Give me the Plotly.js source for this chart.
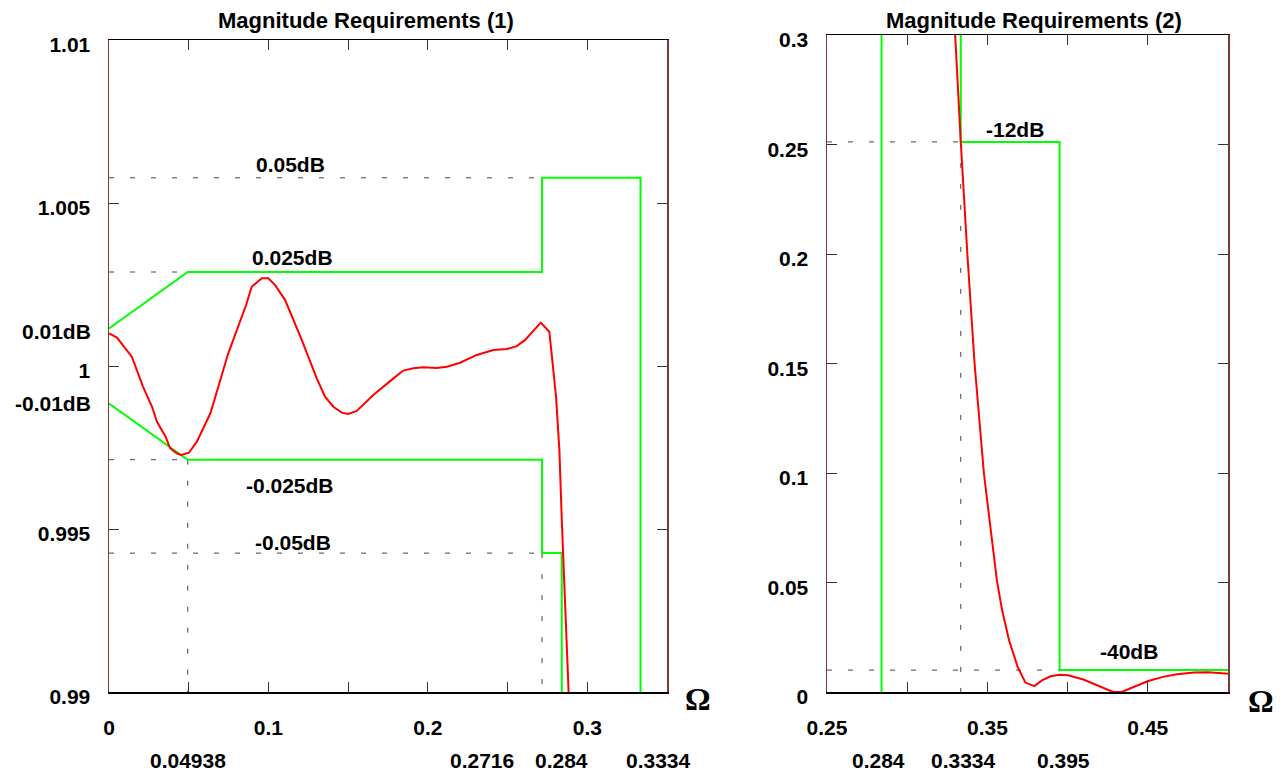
<!DOCTYPE html>
<html>
<head>
<meta charset="utf-8">
<script src="https://cdn.plot.ly/plotly-3.0.1.min.js"></script>
<style>html,body{margin:0;padding:0;background:#fff;}#chart{width:1286px;height:773px;}</style>
</head>
<body>
<div id="chart"></div>
<script>
// ---------- data ----------
// band edge frequencies
const fPassRamp = 0.04938;
const fPass = 0.2716;
const fEdge = 0.284;
const fStop1 = 0.3334;
const fStop2 = 0.395;
// passband limits (dB label, linear magnitude)
const passLabels = ['0.01dB', '0.025dB', '0.05dB', '-0.01dB', '-0.025dB', '-0.05dB'];
const passMags = [1.001152, 1.002883, 1.005773, 0.998849, 0.997126, 0.994260];
// stopband limits
const stopLabels = ['-12dB', '-40dB'];
const stopMags = [0.251189, 0.01];
// measured magnitude response, passband view
const respOmega1 = [0.0000,0.0050,0.0144,0.0213,0.0270,0.0301,0.0355,0.0383,0.0425,0.0453,0.0501,0.0551,0.0636,0.0748,0.0860,0.0895,0.0958,0.0999,0.1041,0.1104,0.1209,0.1303,0.1355,0.1407,0.1460,0.1501,0.1554,0.1658,0.1784,0.1846,0.1909,0.1972,0.2056,0.2119,0.2202,0.2307,0.2411,0.2495,0.2558,0.2610,0.2708,0.2762,0.2804,0.2825,0.2840,0.2867,0.2886,0.2895];
const respMag1 = [1.00100,1.00087,1.00028,0.99937,0.99875,0.99829,0.99783,0.99748,0.99732,0.99727,0.99734,0.99768,0.99855,1.00039,1.00187,1.00243,1.00269,1.00269,1.00249,1.00203,1.00080,0.99962,0.99906,0.99875,0.99857,0.99853,0.99862,0.99911,0.99962,0.99986,0.99993,0.99996,0.99994,0.99998,1.00010,1.00034,1.00049,1.00052,1.00061,1.00080,1.00133,1.00105,0.99906,0.99742,0.99528,0.99221,0.99000,0.98850];
// measured magnitude response, stopband view
const respOmega2 = [0.3290,0.3299,0.3334,0.3375,0.3420,0.3478,0.3559,0.3592,0.3635,0.3689,0.3737,0.3793,0.3840,0.3894,0.3948,0.4002,0.4099,0.4207,0.4283,0.4337,0.4401,0.4498,0.4595,0.4681,0.4789,0.4876,0.4983,0.5000];
const respMag2 = [0.3200,0.3000,0.2512,0.2000,0.1500,0.1000,0.0510,0.0373,0.0236,0.0114,0.0043,0.0027,0.0053,0.0072,0.0079,0.0076,0.0057,0.0023,0.0000,0.0000,0.0020,0.0049,0.0069,0.0081,0.0089,0.0090,0.0084,0.0083];
// axes
const range1X = [0, 0.35];
const range1Y = [0.99, 1.01];
const range2X = [0.25, 0.5];
const range2Y = [0, 0.3];
const ticks1X = [0, 0.05, 0.1, 0.15, 0.2, 0.25, 0.3, 0.35];
const tickText1X = ['0', '', '0.1', '', '0.2', '', '0.3', ''];
const ticks1Y = [0.99, 0.995, 1, 1.005, 1.01];
const tickText1Y = ['0.99', '0.995', '1', '1.005', '1.01'];
const ticks2X = [0.25, 0.3, 0.35, 0.4, 0.45, 0.5];
const tickText2X = ['0.25', '', '0.35', '', '0.45', ''];
const ticks2Y = [0, 0.05, 0.1, 0.15, 0.2, 0.25, 0.3];
const tickText2Y = ['0', '0.05', '0.1', '0.15', '0.2', '0.25', '0.3'];
const titles = ['Magnitude Requirements (1)', 'Magnitude Requirements (2)'];
const freqLabels1 = ['0.04938', '0.2716', '0.284', '0.3334'];
const freqLabels2 = ['0.284', '0.3334', '0.395'];

// ---------- layout helpers ----------
const W = 1286, H = 773;
const px = v => v / W;
const py = v => 1 - v / H;
const GREEN = '#00ff00', RED = '#ff0000', DASH = '#444444';
const FONT = 'Liberation Sans, Arial, sans-serif';
const dashLine = {color: DASH, width: 1, dash: '5px,16px'};
const greenLine = {color: GREEN, width: 2};

const traces = [];
function add(x, y, line, xa, ya) {
  traces.push({x: x, y: y, mode: 'lines', line: line, xaxis: xa, yaxis: ya, hoverinfo: 'skip'});
}
// ---- plot 1 ----
const [u01, u025, u05, l01, l025, l05] = passMags;
add([0, fPass], [u05, u05], dashLine, 'x', 'y');
add([0, fPassRamp], [u025, u025], dashLine, 'x', 'y');
add([0, fPassRamp], [l025, l025], dashLine, 'x', 'y');
add([0, fPass], [l05, l05], dashLine, 'x', 'y');
add([fPassRamp, fPassRamp], [l025, range1Y[0]], dashLine, 'x', 'y');
add([fPass, fPass], [l05, range1Y[0]], dashLine, 'x', 'y');
add([0, fPassRamp, fPass, fPass, fStop1, fStop1], [u01, u025, u025, u05, u05, range1Y[0]], greenLine, 'x', 'y');
add([0, fPassRamp, fPass, fPass, fEdge, fEdge], [l01, l025, l025, l05, l05, range1Y[0]], greenLine, 'x', 'y');
add(respOmega1, respMag1, {color: RED, width: 2}, 'x', 'y');
// ---- plot 2 ----
const [s12, s40] = stopMags;
add([range2X[0], fStop1], [s12, s12], dashLine, 'x2', 'y2');
add([fStop1, fStop1], [s12, 0], dashLine, 'x2', 'y2');
add([range2X[0], fStop2], [s40, s40], dashLine, 'x2', 'y2');
add([fEdge, fEdge], [0, range2Y[1]], greenLine, 'x2', 'y2');
add([fStop1, fStop1, fStop2, fStop2, range2X[1]], [range2Y[1], s12, s12, s40, s40], greenLine, 'x2', 'y2');
add(respOmega2, respMag2, {color: RED, width: 2}, 'x2', 'y2');

const tickFont = {family: FONT, size: 21, color: '#000', weight: 'bold'};
function xAxis(dom, range, tv, tt, anchor) {
  return {domain: dom, range: range, tickvals: tv, ticktext: tt, ticks: 'inside', ticklen: 10,
    tickcolor: '#333', tickwidth: 1, showline: true, linecolor: '#000', linewidth: 1.5, mirror: 'ticks',
    showgrid: false, zeroline: false, anchor: anchor, tickfont: tickFont, ticklabelstandoff: 16, fixedrange: true};
}
function yAxis(dom, range, tv, tt, anchor) {
  return {domain: dom, range: range, tickvals: tv, ticktext: tt, ticks: 'inside', ticklen: 10,
    tickcolor: '#333', tickwidth: 1, showline: true, linecolor: '#7a3b35', linewidth: 1.5, mirror: 'ticks',
    showgrid: false, zeroline: false, anchor: anchor, tickfont: tickFont, ticklabelstandoff: 13,
    ticklabelshift: 5, fixedrange: true};
}
const annFont = {family: FONT, size: 21, color: '#000', weight: 'bold'};
const anns = [];
function ann(text, x, y, xref, yref, opts) {
  anns.push(Object.assign({text: text, x: x, y: y, xref: xref, yref: yref, showarrow: false,
    font: annFont, xanchor: 'center', yanchor: 'middle'}, opts || {}));
}
ann(titles[0], px(366), py(20), 'paper', 'paper', {font: {family: FONT, size: 22, color: '#000', weight: 'bold'}});
ann(titles[1], px(1034), py(20), 'paper', 'paper', {font: {family: FONT, size: 22, color: '#000', weight: 'bold'}});
// band labels plot 1
ann(passLabels[2], px(290), py(165), 'paper', 'paper');
ann(passLabels[1], px(292), py(257), 'paper', 'paper');
ann(passLabels[4], px(290), py(485), 'paper', 'paper');
ann(passLabels[5], px(293), py(542), 'paper', 'paper');
ann(passLabels[0], px(93), u01, 'paper', 'y', {xanchor: 'right', yshift: -3});
ann(passLabels[3], px(93), l01, 'paper', 'y', {xanchor: 'right'});
// band labels plot 2
ann(stopLabels[0], px(1015), py(129), 'paper', 'paper');
ann(stopLabels[1], px(1129), py(651), 'paper', 'paper');
// frequency labels
ann(freqLabels1[0], fPassRamp, py(760), 'x', 'paper');
ann(freqLabels1[1], fPass, py(760), 'x', 'paper', {xshift: -60});
ann(freqLabels1[2], fEdge, py(760), 'x', 'paper');
ann(freqLabels1[3], fStop1, py(760), 'x', 'paper', {xshift: 18});
ann(freqLabels2[0], fEdge, py(760), 'x2', 'paper', {xshift: -3});
ann(freqLabels2[1], fStop1, py(760), 'x2', 'paper', {xshift: 3});
ann(freqLabels2[2], fStop2, py(760), 'x2', 'paper', {xshift: 4});
// omega axis symbols
const omegaFont = {family: 'Liberation Serif, serif', size: 32, color: '#000', weight: 'bold'};
ann('Ω', px(698), py(699), 'paper', 'paper', {font: omegaFont});
ann('Ω', px(1261), py(701), 'paper', 'paper', {font: omegaFont});

const layout = {
  width: W, height: H, margin: {l: 0, r: 0, t: 0, b: 0}, showlegend: false,
  paper_bgcolor: '#fff', plot_bgcolor: '#fff', font: {family: FONT},
  xaxis: xAxis([px(109), px(667)], range1X, ticks1X, tickText1X, 'y'),
  yaxis: yAxis([py(692), py(40)], range1Y, ticks1Y, tickText1Y, 'x'),
  xaxis2: xAxis([px(827), px(1228)], range2X, ticks2X, tickText2X, 'y2'),
  yaxis2: yAxis([py(692), py(35)], range2Y, ticks2Y, tickText2Y, 'x2'),
  annotations: anns
};
Plotly.newPlot('chart', traces, layout, {staticPlot: true, displayModeBar: false});
</script>
</body>
</html>
